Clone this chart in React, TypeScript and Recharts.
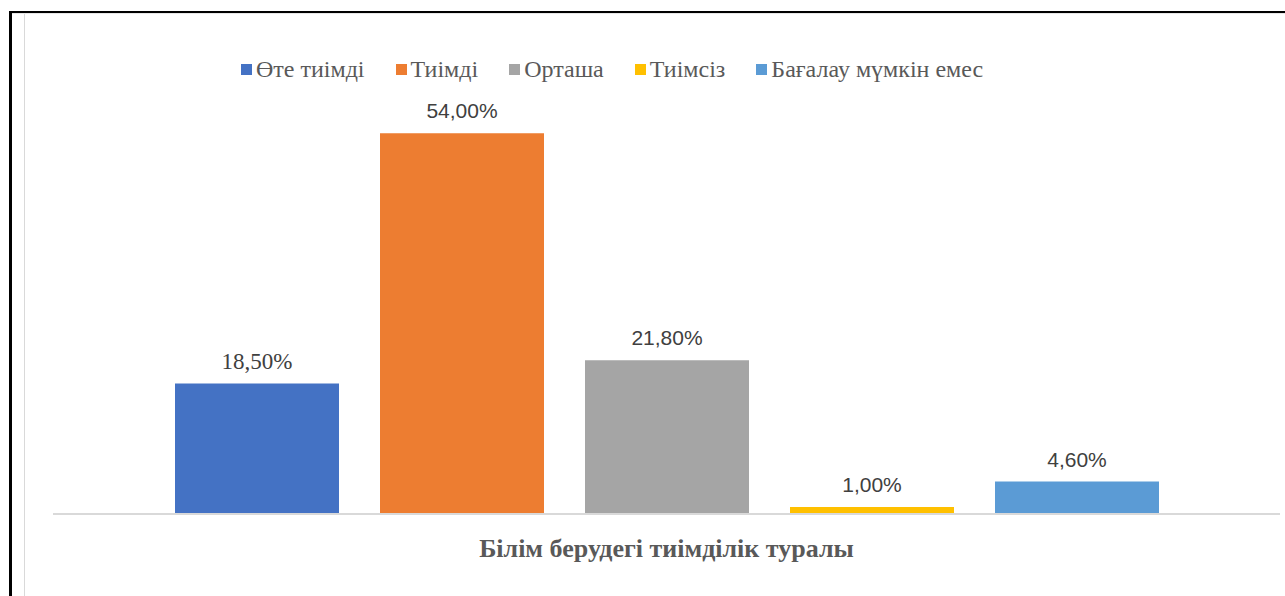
import React from 'react';
import { BarChart, Bar, XAxis, YAxis, Legend } from 'recharts';

// category and series
const categories = ['Білім берудегі тиімділік туралы'];
const seriesNames = ['Өте тиімді', 'Тиімді', 'Орташа', 'Тиімсіз', 'Бағалау мүмкін емес'];
const seriesValues = [18.5, 54.0, 21.8, 1.0, 4.6];
const seriesColors = ['#4472C4', '#ED7D31', '#A5A5A5', '#FFC000', '#5B9BD5'];

const keys = seriesNames.map((_, i) => `s${i}`);

const data = categories.map((name) => {
  const row: { [key: string]: any } = { name };
  keys.forEach((k, i) => {
    row[k] = seriesValues[i];
  });
  return row;
});

const SERIF = '"Liberation Serif", "Times New Roman", serif';
const SANS = '"Liberation Sans", Arial, sans-serif';

const fmt = (v: any) => `${Number(v).toFixed(2).replace('.', ',')}%`;

const LegendContent = () => (
  <div style={{ display: 'flex', alignItems: 'center', fontFamily: SERIF, fontSize: 24, color: '#595959', whiteSpace: 'nowrap' }}>
    {seriesNames.map((n, i) => (
      <div key={n} style={{ display: 'flex', alignItems: 'center', marginRight: 31 }}>
        <span style={{ display: 'inline-block', width: 11, height: 11, background: seriesColors[i], marginRight: 4 }} />
        <span>{n}</span>
      </div>
    ))}
  </div>
);

const CategoryTick = (props: any) => {
  const { x, y, payload } = props;
  return (
    <text x={x} y={y + 35} textAnchor="middle" fill="#595959" fontFamily={SERIF} fontSize={26} fontWeight="bold">
      {payload.value}
    </text>
  );
};

export default function App() {
  return (
    <div style={{ position: 'absolute', left: 0, top: 0, width: 1285, height: 596, background: '#fff', overflow: 'hidden' }}>
      {/* frame lines */}
      <div style={{ position: 'absolute', left: 9, top: 11, width: 1290, height: 600, borderLeft: '3px solid #000', borderTop: '2px solid #000' }} />
      <div style={{ position: 'absolute', left: 24, top: 13, width: 1, height: 590, background: '#d9d9d9' }} />
      <div style={{ position: 'absolute', left: 12, top: 13, width: 1280, height: 1, background: '#e6e6e6' }} />
      <div style={{ position: 'absolute', left: 0, top: 0 }}>
        <BarChart
          width={1285}
          height={596}
          data={data}
          margin={{ top: 91, right: 5, bottom: 0, left: 53 }}
          barSize={164}
          barGap={41}
        >
          <XAxis
            dataKey="name"
            axisLine={{ stroke: '#d9d9d9', strokeWidth: 2 }}
            tickLine={false}
            tick={<CategoryTick />}
            height={82}
          />
          <YAxis hide domain={[0, 60]} />
          <Legend
            layout="horizontal"
            verticalAlign="middle"
            align="center"
            content={<LegendContent />}
            wrapperStyle={{ position: 'absolute', left: 241, top: 56, width: 'auto' }}
          />
          {keys.map((k, i) => (
            <Bar
              key={k}
              dataKey={k}
              name={seriesNames[i]}
              fill={seriesColors[i]}
              isAnimationActive={false}
              label={{
                position: 'top',
                offset: 15,
                fill: '#404040',
                fontSize: i === 0 ? 23 : 21,
                fontFamily: i === 0 ? SERIF : SANS,
                formatter: fmt,
              }}
            />
          ))}
        </BarChart>
      </div>
    </div>
  );
}
